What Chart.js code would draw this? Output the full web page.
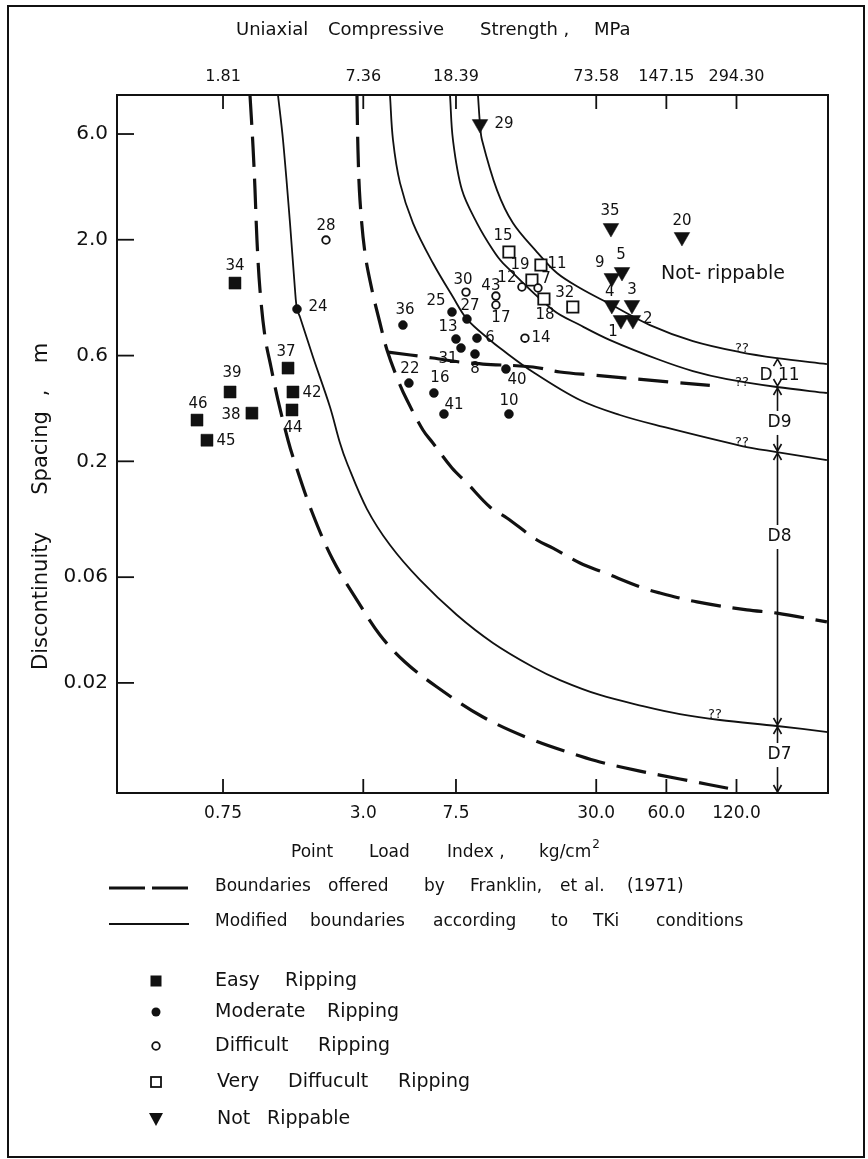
<!DOCTYPE html>
<html><head><meta charset="utf-8">
<script src="https://cdn.jsdelivr.net/npm/chart.js@4.4.1/dist/chart.umd.min.js"></script>
<style>html,body{margin:0;padding:0;background:#fff;}canvas{display:block;}</style>
</head><body>
<canvas id="c" width="868" height="1159" style="width:868px;height:1159px"></canvas>
<script>
// ---------- axis definitions ----------
const X_MIN = 0.263, X_MAX = 296.5;
const Y_MIN = 0.00637, Y_MAX = 9.0;
const xTickValues = [0.75, 3.0, 7.5, 30.0, 60.0, 120.0];
const xTickLabels = ['0.75', '3.0', '7.5', '30.0', '60.0', '120.0'];
const topTickLabels = ['1.81', '7.36', '18.39', '73.58', '147.15', '294.30'];
const yTickValues = [6.0, 2.0, 0.6, 0.2, 0.06, 0.02];
const yTickLabels = ['6.0', '2.0', '0.6', '0.2', '0.06', '0.02'];

// ---------- observations (Point load index kg/cm2, spacing m) ----------
const easyIds = ['34','37','39','42','38','44','46','45'];
const easyX = [0.844, 1.426, 0.804, 1.497, 0.998, 1.483, 0.580, 0.640];
const easyY = [1.275, 0.527, 0.411, 0.411, 0.330, 0.341, 0.307, 0.249];

const modIds = ['24','36','25','27','13','6','31','8','40','10','16','41','22'];
const modX = [1.558, 4.44, 7.21, 8.36, 7.50, 9.23, 7.88, 9.05, 12.29, 12.66, 6.03, 6.66, 4.71];
const modY = [0.973, 0.824, 0.944, 0.877, 0.713, 0.719, 0.649, 0.610, 0.522, 0.327, 0.407, 0.327, 0.451];

const diffIds = ['28','30','43','17','14','12','7'];
const diffX = [2.075, 8.28, 11.13, 11.13, 14.83, 14.39, 16.87];
const diffY = [1.994, 1.161, 1.114, 1.015, 0.719, 1.224, 1.211];

const veryIds = ['15','11','19','18','32'];
const veryX = [12.66, 17.37, 15.89, 17.89, 23.8];
const veryY = [1.760, 1.538, 1.316, 1.080, 0.994];

const notIds = ['29','35','20','5','9','4','3','1','2'];
const notX = [9.51, 34.7, 70.0, 38.7, 35.0, 35.0, 42.7, 38.3, 43.1];
const notY = [6.65, 2.258, 2.057, 1.430, 1.343, 1.015, 1.015, 0.868, 0.868];

// ---------- boundaries (Franklin et al. 1971, dashed) ----------
const fr1X = [0.979,1.009,1.029,1.049,1.081,1.136,1.205,1.291,1.426,1.512,1.807,2.224,2.819,3.538,4.53,6.216,9.79,16.05,25.54,31.1,46.2,68.6,120.5];
const fr1Y = [9.0,5.24,3.35,1.994,1.186,0.728,0.533,0.378,0.249,0.2027,0.1181,0.0717,0.0473,0.0329,0.02485,0.01916,0.01403,0.01105,0.00935,0.00879,0.0080,0.00737,0.00657];
const fr2X = [2.819,2.847,2.904,3.051,3.270,3.538,3.793,4.228,4.62,5.41,5.97,7.21,8.36,10.49,12.41,16.70,19.56,25.54,32.7,47.6,56.3,81.2,133.0,178.9,293.3];
const fr2Y = [9.0,5.08,3.02,1.742,1.186,0.842,0.636,0.4655,0.378,0.277,0.2419,0.1866,0.1596,0.1244,0.1110,0.0883,0.0812,0.0695,0.0627,0.0536,0.0509,0.0464,0.0427,0.0413,0.0377];
const fr3X = [3.83,5.97,7.80,9.79,16.05,20.96,29.04,62.2,101.9];
const fr3Y = [0.6225,0.585,0.561,0.5496,0.533,0.506,0.490,0.456,0.437];

// ---------- boundaries (modified, TKI, solid) ----------
const tk1X = [1.291,1.357,1.454,1.528,1.558,1.605,1.825,2.159,2.383,2.554,3.112,3.906,5.255,7.57,10.81,16.05,20.96,31.1,47.6,68.6,101.9,178.9,296];
const tk1Y = [9.0,5.64,2.379,1.186,0.973,0.896,0.591,0.3516,0.2419,0.1965,0.1218,0.0838,0.0583,0.0405,0.0303,0.0236,0.0206,0.01764,0.01573,0.01447,0.0136,0.01278,0.0120];
const tk2X = [3.906,4.024,4.312,4.904,5.97,7.28,8.36,10.49,11.58,16.05,25.54,37.9,56.3,126.6,178.9,293.3];
const tk2Y = [9.0,5.64,3.61,2.379,1.570,1.103,0.877,0.7055,0.649,0.506,0.378,0.3236,0.2886,0.2345,0.2203,0.2027];
const tk3X = [7.07,7.28,7.96,9.23,10.81,11.93,19.56,25.54,34.4,56.3,78.0,109.2,178.9,293.3];
const tk3Y = [9.0,5.64,3.35,2.379,1.797,1.570,0.963,0.824,0.705,0.573,0.511,0.470,0.4329,0.4067];
const tk4X = [9.32,9.51,9.70,11.25,13.17,16.70,20.35,25.54,34.4,51.0,78.0,124.1,178.9,293.3];
const tk4Y = [9.0,6.65,5.64,3.35,2.379,1.760,1.415,1.211,1.025,0.824,0.698,0.6225,0.585,0.5496];

// ---------- class-interval annotation (D11, D9, D8, D7) ----------
const dimX = 180;
const dimBounds = [0.585, 0.4329, 0.2203, 0.01278, Y_MIN];
const dimLabels = ['D 11', 'D9', 'D8', 'D7'];
const dimLabelY = [0.490, 0.298, 0.0911, 0.00945];
const qX = [126.6, 126.6, 126.6, 97.0];
const qY = [0.642, 0.451, 0.242, 0.01433];

// ---------- label placement (pixel offsets from marker) ----------
const easyOff = [[0,-17],[-2,-16],[2,-19],[19,1],[-21,2],[1,18],[1,-16],[19,1]];
const modOff = [[21,-2],[2,-15],[-16,-11],[3,-13],[-8,-12],[13,0],[-13,11],[0,15],[11,11],[0,-13],[6,-15],[10,-9],[1,-14]];
const diffOff = [[0,-14],[-3,-12],[-5,-10],[5,13],[16,0],[-15,-9],[8,-9]];
const veryOff = [[-6,-16],[16,-1],[-12,-15],[1,16],[-8,-14]];
const notOff = [[24,0],[-1,-17],[0,-16],[-1,-17],[-12,-15],[-2,-13],[0,-15],[-8,12],[15,-1]];

const INK = '#111';
const FONT = '"DejaVu Sans", sans-serif';
const pts = (xs, ys) => xs.map((x, i) => ({x: x, y: ys[i]}));

function curve(xs, ys, dashed) {
  return {
    data: pts(xs, ys), showLine: true, borderColor: INK,
    borderWidth: dashed ? 3.2 : 1.8, borderDash: dashed ? [30, 12] : [],
    pointRadius: 0, tension: 0.35, fill: false
  };
}
function marks(xs, ys, style, r, filled, rot) {
  return {
    data: pts(xs, ys), showLine: false, pointStyle: style, pointRadius: r,
    pointRotation: rot || 0,
    backgroundColor: filled ? INK : '#fff', borderColor: INK,
    borderWidth: filled ? 0.5 : 1.8
  };
}

const datasets = [
  marks(easyX, easyY, 'rect', 8.5, true),
  marks(modX, modY, 'circle', 4.5, true),
  marks(diffX, diffY, 'circle', 3.8, false),
  marks(veryX, veryY, 'rect', 8, false),
  marks(notX, notY, 'triangle', 9, true, 180),
  curve(fr1X, fr1Y, true),
  curve(fr2X, fr2Y, true),
  curve(fr3X, fr3Y, true),
  curve(tk1X, tk1Y, false),
  curve(tk2X, tk2Y, false),
  curve(tk3X, tk3Y, false),
  curve(tk4X, tk4Y, false)
];
const labelGroups = [[0, easyIds, easyOff], [1, modIds, modOff], [2, diffIds, diffOff], [3, veryIds, veryOff], [4, notIds, notOff]];

function words(ctx, list, starts, y, size) {
  ctx.font = size + 'px ' + FONT;
  ctx.textAlign = 'left'; ctx.textBaseline = 'middle';
  list.forEach((w, i) => ctx.fillText(w, starts[i], y));
}
function arrow(ctx, x, y, dir) { // dir -1 up, +1 down (tip at x,y)
  ctx.beginPath();
  ctx.moveTo(x - 4, y - dir * 7); ctx.lineTo(x, y); ctx.lineTo(x + 4, y - dir * 7);
  ctx.stroke();
}

const overlay = {
  id: 'overlay',
  afterDatasetsDraw(chart) {
    const ctx = chart.ctx, xs = chart.scales.x, ys = chart.scales.y, ca = chart.chartArea;
    ctx.save();
    ctx.fillStyle = INK; ctx.strokeStyle = INK;
    ctx.lineWidth = 2;
    ctx.strokeRect(ca.left, ca.top, ca.right - ca.left, ca.bottom - ca.top);
    ctx.lineWidth = 1.8;
    xTickValues.forEach(v => {
      const p = xs.getPixelForValue(v);
      ctx.beginPath(); ctx.moveTo(p, ca.bottom); ctx.lineTo(p, ca.bottom - 14); ctx.stroke();
      ctx.beginPath(); ctx.moveTo(p, ca.top); ctx.lineTo(p, ca.top + 14); ctx.stroke();
    });
    yTickValues.forEach(v => {
      const p = ys.getPixelForValue(v);
      ctx.beginPath(); ctx.moveTo(ca.left, p); ctx.lineTo(ca.left + 17, p); ctx.stroke();
    });
    ctx.font = '15px ' + FONT; ctx.textAlign = 'center'; ctx.textBaseline = 'middle';
    labelGroups.forEach(([di, ids, off]) => {
      chart.getDatasetMeta(di).data.forEach((el, i) => {
        ctx.fillText(ids[i], el.x + off[i][0], el.y + off[i][1]);
      });
    });
    ctx.font = '19px ' + FONT;
    ctx.fillText('Not- rippable', xs.getPixelForValue(105), ys.getPixelForValue(1.40));
    ctx.font = '13px ' + FONT;
    qX.forEach((v, i) => ctx.fillText('??', xs.getPixelForValue(v), ys.getPixelForValue(qY[i])));
    const dx = xs.getPixelForValue(dimX);
    const by = dimBounds.map(v => ys.getPixelForValue(v));
    ctx.lineWidth = 1.6;
    ctx.font = '17px ' + FONT;
    dimLabels.forEach((lab, i) => {
      const ly = ys.getPixelForValue(dimLabelY[i]);
      const top = by[i], bot = by[i + 1];
      if (i > 0) {
        ctx.beginPath(); ctx.moveTo(dx, top + 1); ctx.lineTo(dx, ly - 12); ctx.stroke();
        ctx.beginPath(); ctx.moveTo(dx, ly + 12); ctx.lineTo(dx, bot - 1); ctx.stroke();
      }
      arrow(ctx, dx, top + 1, -1);
      arrow(ctx, dx, bot - 1, 1);
      ctx.fillText(lab, dx + 2, ly);
    });
    ctx.restore();
  },
  afterDraw(chart) {
    const ctx = chart.ctx;
    ctx.save();
    ctx.fillStyle = INK; ctx.strokeStyle = INK;
    ctx.lineWidth = 2;
    ctx.strokeRect(8, 6, 856, 1151);
    words(ctx, ['Uniaxial', 'Compressive', 'Strength ,', 'MPa'], [236, 328, 480, 594], 30, 18);
    words(ctx, ['Point', 'Load', 'Index ,', 'kg/cm'], [291, 369, 447, 539], 853, 17);
    const cmW = ctx.measureText('kg/cm').width;
    ctx.font = '12px ' + FONT;
    ctx.fillText('2', 539 + cmW + 1, 845);
    ctx.save();
    ctx.translate(42, 0);
    ctx.rotate(-Math.PI / 2);
    ctx.font = '21px ' + FONT; ctx.textAlign = 'center'; ctx.textBaseline = 'middle';
    [['Discontinuity', 601], ['Spacing', 453], [',', 393], ['m', 353]].forEach(([w, c]) => ctx.fillText(w, -c, 0));
    ctx.restore();
    ctx.lineWidth = 3.2; ctx.setLineDash([36, 7]);
    ctx.beginPath(); ctx.moveTo(109, 888); ctx.lineTo(189, 888); ctx.stroke();
    ctx.setLineDash([]); ctx.lineWidth = 1.8;
    ctx.beginPath(); ctx.moveTo(109, 924); ctx.lineTo(189, 924); ctx.stroke();
    words(ctx, ['Boundaries', 'offered', 'by', 'Franklin,', 'et', 'al.', '(1971)'], [215, 328, 424, 470, 560, 584, 627], 887, 17);
    words(ctx, ['Modified', 'boundaries', 'according', 'to', 'TKi', 'conditions'], [215, 310, 433, 551, 593, 656], 922, 17);
    const mx = 156;
    ctx.fillRect(mx - 5.5, 981 - 5.5, 11, 11);
    ctx.beginPath(); ctx.arc(mx, 1012, 4.5, 0, Math.PI * 2); ctx.fill();
    ctx.lineWidth = 1.8;
    ctx.beginPath(); ctx.arc(mx, 1046, 3.8, 0, Math.PI * 2); ctx.stroke();
    ctx.strokeRect(mx - 5, 1082 - 5, 10, 10);
    ctx.beginPath(); ctx.moveTo(mx - 7, 1113); ctx.lineTo(mx + 7, 1113); ctx.lineTo(mx, 1126); ctx.closePath(); ctx.fill();
    words(ctx, ['Easy', 'Ripping'], [215, 285], 981, 19);
    words(ctx, ['Moderate', 'Ripping'], [215, 327], 1012, 19);
    words(ctx, ['Difficult', 'Ripping'], [215, 318], 1046, 19);
    words(ctx, ['Very', 'Diffucult', 'Ripping'], [217, 288, 398], 1082, 19);
    words(ctx, ['Not', 'Rippable'], [217, 267], 1119, 19);
    ctx.restore();
  }
};

function logAxis(min, max, pos, values, labels, size, pad, extra) {
  return Object.assign({
    type: 'logarithmic', position: pos, min: min, max: max,
    afterBuildTicks: s => { s.ticks = values.map(v => ({value: v})); },
    ticks: {
      callback: (v) => { const k = values.indexOf(v); return k >= 0 ? labels[k] : ''; },
      font: {family: FONT, size: size}, color: INK, padding: pad,
      autoSkip: false, maxRotation: 0, minRotation: 0
    },
    grid: {display: false, drawTicks: false},
    border: {display: false}
  }, extra);
}

new Chart(document.getElementById('c'), {
  type: 'scatter',
  data: {datasets: datasets},
  options: {
    responsive: false, animation: false, events: [],
    layout: {padding: {left: 0, right: 40, top: 0, bottom: 0}, autoPadding: false},
    plugins: {legend: {display: false}, tooltip: {enabled: false}},
    scales: {
      x: logAxis(X_MIN, X_MAX, 'bottom', xTickValues, xTickLabels, 17, 10, {afterFit: s => { s.height = 366; }}),
      x2: logAxis(X_MIN, X_MAX, 'top', xTickValues, topTickLabels, 16, 9, {afterFit: s => { s.height = 95; }}),
      y: logAxis(Y_MIN, Y_MAX, 'left', yTickValues, yTickLabels, 20, 9, {afterFit: s => { s.width = 117; }})
    }
  },
  plugins: [overlay]
});
</script>
</body></html>
